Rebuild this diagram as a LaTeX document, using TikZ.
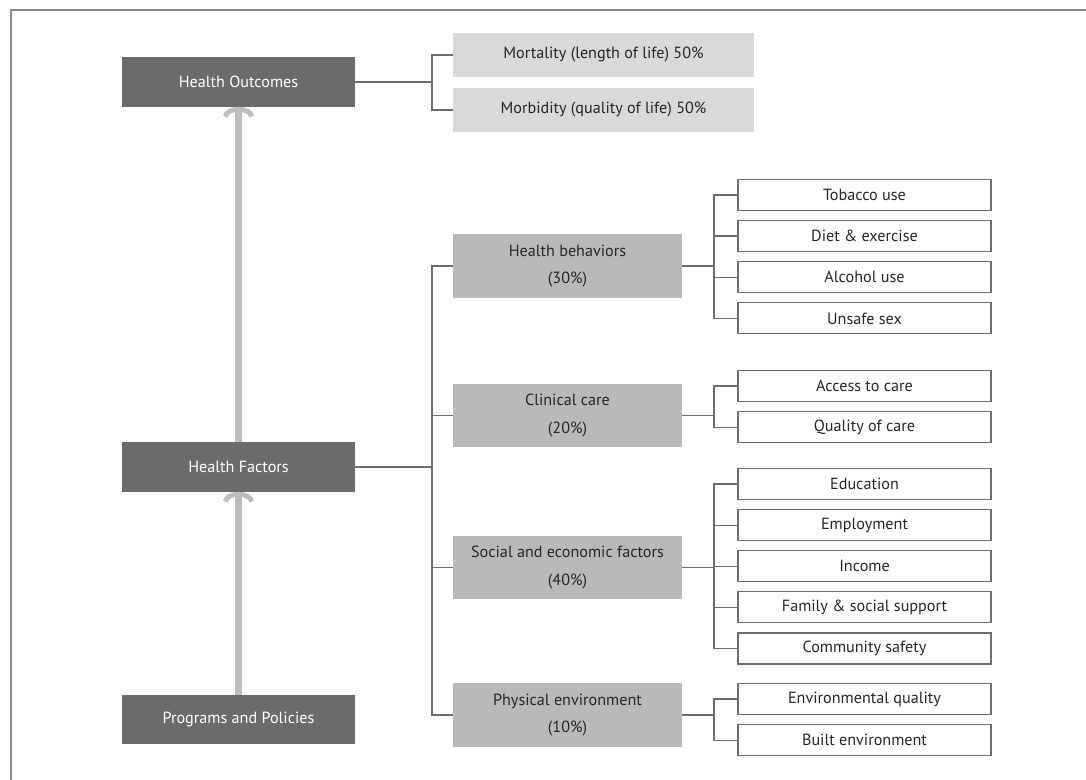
\documentclass[tikz,border=0pt]{standalone}
\usepackage{fontspec}
\setmainfont{PT Sans}
\usetikzlibrary{positioning, arrows.meta}
\definecolor{darkbox}{HTML}{6B6B6B}
\definecolor{midbox}{HTML}{B9B9B9}
\definecolor{lightbox}{HTML}{D9D9D9}
\definecolor{linegray}{HTML}{6E6E6E}
\definecolor{arrowgray}{HTML}{BEBEBE}
\definecolor{framegray}{HTML}{8A8A8A}
\definecolor{textgray}{HTML}{262626}

\begin{document}
\begin{tikzpicture}[
          x=0.025cm, y=-0.025cm,
          node distance=0.225cm,
          every node/.style={font=\fontsize{11.5}{19.5}\selectfont},
          mainbox/.style={rectangle, fill=darkbox, text=white,
                          minimum width=5.825cm, minimum height=1.225cm},
          outbox/.style={rectangle, fill=lightbox, text=textgray,
                         minimum width=7.5cm, minimum height=1.075cm},
          catbox/.style={rectangle, fill=midbox, text=textgray,
                         minimum width=5.725cm, minimum height=1.575cm, align=center},
          subbox/.style={rectangle, draw=linegray, line width=0.8pt, text=textgray,
                         minimum width=6.325cm, minimum height=0.775cm},
          link/.style={draw=linegray, line width=0.9pt},
          uparrow/.style={draw=arrowgray, line width=5pt,
                          -{Arc Barb[length=7pt, width=22pt, line width=3.5pt]}},
        ]
        \useasboundingbox (0,0) rectangle (1086,780);
        \draw[framegray, line width=1.5pt] (11,780) -- (11,10) -- (1086,10);

        % left column
        \node[mainbox] (out) at (238.5,82)  {Health Outcomes};
        \node[mainbox] (fac) at (238.5,467) {Health Factors};
        \node[mainbox] (pol) at (238.5,719.5) {Programs and Policies};
        \draw[uparrow] (pol) -- (fac);
        \draw[uparrow] (fac) -- (out);

        % outcomes
        \coordinate (spine) at (432,0);
        \node[outbox] (mort) at (603.5,55)  {Mortality (length of life) 50\%};
        \node[outbox] (morb) at (603.5,110) {Morbidity (quality of life) 50\%};
        \draw[link] (out.east) -- (out.east -| spine);
        \draw[link] (mort.west) -| (spine |- morb.west) -- (morb.west);

        % factors
        \node[catbox] (beh) at (567.5,266)   {Health behaviors\\(30\%)};
        \node[catbox] (care) at (567.5,415.5) {Clinical care\\(20\%)};
        \node[catbox] (soc) at (567.5,567.5)  {Social and economic factors\\(40\%)};
        \node[catbox] (env) at (567.5,715)    {Physical environment\\(10\%)};
        \draw[link] (fac.east) -- (fac.east -| spine);
        \draw[link] (beh.west) -| (spine |- env.west) -- (env.west);
        \foreach \c in {care, soc}
          \draw[link] (\c.west) -- (\c.west -| spine);

        % sub factors
        \coordinate (fork) at (714,0);
        \node[subbox] (tob) at (864.5,195) {Tobacco use};
        \node[subbox, below=of tob]  (diet) {Diet \& exercise};
        \node[subbox, below=of diet] (alc)  {Alcohol use};
        \node[subbox, below=of alc]  (sex)  {Unsafe sex};
        \node[subbox] (acc) at (864.5,386) {Access to care};
        \node[subbox, below=of acc]  (qual) {Quality of care};
        \node[subbox] (edu) at (864.5,484) {Education};
        \node[subbox, below=of edu]  (emp)  {Employment};
        \node[subbox, below=of emp]  (inc)  {Income};
        \node[subbox, below=of inc]  (fam)  {Family \& social support};
        \node[subbox, below=of fam]  (com)  {Community safety};
        \node[subbox] (eq) at (864.5,699) {Environmental quality};
        \node[subbox, below=of eq]   (blt)  {Built environment};

        \foreach \c/\a/\b in {beh/tob/sex, care/acc/qual, soc/edu/com, env/eq/blt} {
          \draw[link] (\c.east) -- (\c.east -| fork);
          \draw[link] (\a.west) -| (fork |- \b.west) -- (\b.west);
        }
        \foreach \s in {diet, alc, emp, inc, fam}
          \draw[link] (\s.west) -- (\s.west -| fork);
      \end{tikzpicture}
\end{document}
